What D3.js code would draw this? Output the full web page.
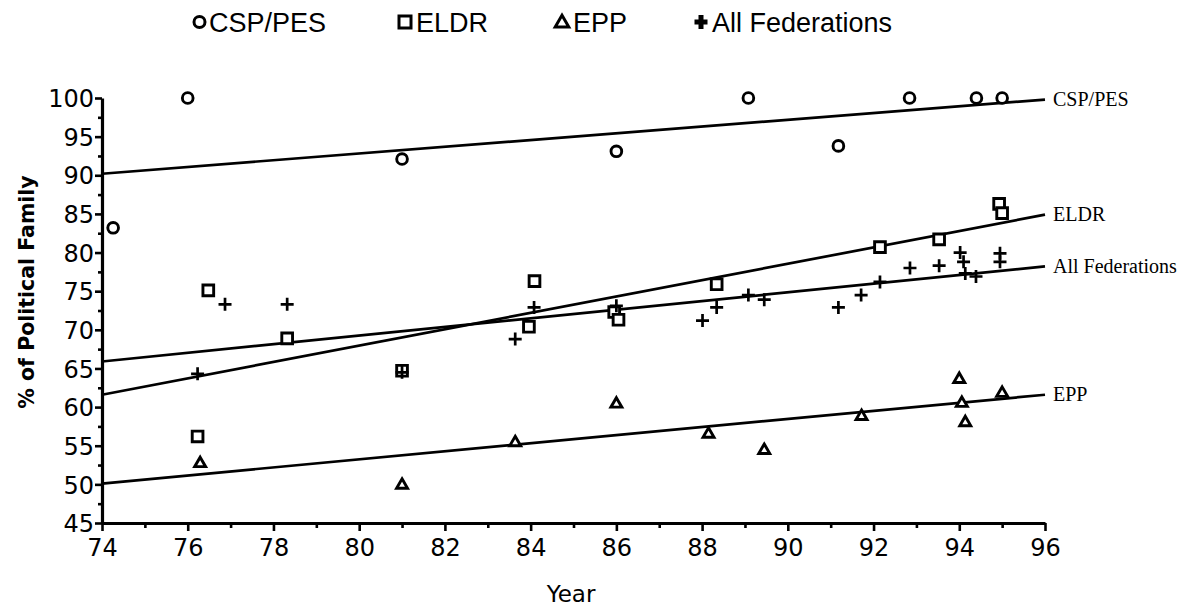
<!DOCTYPE html>
<html>
<head>
<meta charset="utf-8">
<script src="https://cdnjs.cloudflare.com/ajax/libs/d3/7.8.5/d3.min.js"></script>
<style>
  body { margin: 0; background: #fff; }
  svg text { fill: #000; }
</style>
</head>
<body>
<div id="chart"></div>
<script>
// values: [year, percent]
var cspPes = [[74.26, 83.2], [76.0, 100], [81.0, 92.1], [86.0, 93.1], [89.08, 100],
    [91.18, 93.8], [92.84, 100], [94.4, 100], [95.0, 100]];
var eldr = [[76.48, 75.1], [78.32, 68.9], [76.23, 56.2], [81.0, 64.7], [84.09, 76.3],
    [83.96, 70.4], [85.95, 72.3], [86.05, 71.3], [88.34, 75.9], [92.15, 80.7],
    [93.53, 81.7], [94.93, 86.3], [95.0, 85.1]];
var epp = [[76.29, 52.7], [81.0, 49.9], [83.64, 55.4], [86.0, 60.4], [88.15, 56.5],
    [89.45, 54.4], [91.72, 58.8], [94.0, 63.6], [94.06, 60.5], [94.14, 58.0], [95.0, 61.8]];
var allFed = [[76.23, 64.3], [76.87, 73.3], [78.32, 73.3], [81.0, 64.5], [83.64, 68.8],
    [84.08, 72.9], [86.0, 73.1], [88.01, 71.2], [88.34, 72.9], [89.08, 74.5],
    [89.45, 73.9], [91.18, 72.9], [91.71, 74.5], [92.15, 76.2], [92.85, 78.0],
    [93.53, 78.3], [94.02, 80.0], [94.1, 78.8], [94.14, 77.3], [94.39, 76.9],
    [94.95, 79.9], [94.95, 78.8]];

// fitted lines: value at year 74 and at year 96
var fitNames = ["CSP/PES", "ELDR", "All Federations", "EPP"];
var fitStart = [90.2, 61.6, 65.9, 50.1];
var fitEnd = [99.8, 84.9, 78.2, 61.6];

var legendNames = ["CSP/PES", "ELDR", "EPP", "All Federations"];
var xTicks = d3.range(74, 97, 2);
var yTicks = d3.range(45, 101, 5);

var width = 1200, height = 607;
var x = d3.scaleLinear().domain([74, 96]).range([102, 1045]);
var y = d3.scaleLinear().domain([45, 100]).range([523, 98]);

var svg = d3.select("#chart").append("svg")
    .attr("width", width)
    .attr("height", height);

// axes
var xAxis = svg.append("g")
    .attr("transform", "translate(0," + y(45) + ")")
    .call(d3.axisBottom(x).tickValues(xTicks).tickSize(8).tickSizeOuter(0).tickFormat(d3.format("d")));
xAxis.append("g")
    .call(d3.axisBottom(x).tickValues(d3.range(75, 96, 2)).tickSize(5).tickFormat(""))
    .select(".domain").remove();

var yAxis = svg.append("g")
    .attr("transform", "translate(" + x(74) + ",0)")
    .call(d3.axisLeft(y).tickValues(yTicks).tickSize(7).tickSizeOuter(0));
yAxis.append("g")
    .call(d3.axisLeft(y).tickValues(d3.range(47.5, 100, 5)).tickSize(4).tickFormat(""))
    .select(".domain").remove();

svg.selectAll(".domain").attr("stroke", "#000").attr("stroke-width", 3.2);
svg.selectAll(".tick line").attr("stroke", "#000").attr("stroke-width", 2.6);
xAxis.selectAll(".tick text")
    .attr("font-family", "DejaVu Sans, sans-serif")
    .attr("font-size", 24)
    .attr("dy", "0.95em")
    .attr("y", 10);
yAxis.selectAll(".tick text")
    .attr("font-family", "DejaVu Sans, sans-serif")
    .attr("font-size", 24)
    .attr("x", -8)
    .attr("dy", "0.36em");

svg.append("text")
    .attr("x", 571).attr("y", 602)
    .attr("text-anchor", "middle")
    .attr("font-family", "DejaVu Sans, sans-serif")
    .attr("font-size", 23)
    .text("Year");

svg.append("text")
    .attr("transform", "translate(34,292)rotate(-90)")
    .attr("text-anchor", "middle")
    .attr("font-family", "DejaVu Sans, sans-serif")
    .attr("font-weight", "bold")
    .attr("font-size", 20.5)
    .text("% of Political Family");

// regression lines and their labels
fitNames.forEach(function (name, i) {
    svg.append("line")
        .attr("x1", x(74)).attr("y1", y(fitStart[i]))
        .attr("x2", x(96)).attr("y2", y(fitEnd[i]))
        .attr("stroke", "#000")
        .attr("stroke-width", 2.7);
    svg.append("text")
        .attr("x", x(96) + 8)
        .attr("y", y(fitEnd[i]))
        .attr("dy", "0.33em")
        .attr("font-family", "Liberation Serif, Times New Roman, serif")
        .attr("font-size", 20)
        .text(name);
});

// markers
function symbols(data, type, size) {
    svg.append("g").selectAll("path")
        .data(data)
        .enter().append("path")
        .attr("d", d3.symbol().type(type).size(size))
        .attr("transform", function (d) {
            return "translate(" + x(d[0]) + "," + y(d[1]) + ")";
        })
        .attr("fill", "#fff")
        .attr("stroke", "#000")
        .attr("stroke-width", 2.9);
}
symbols(cspPes, d3.symbolCircle, 90);
symbols(eldr, d3.symbolSquare, 115);
symbols(epp, d3.symbolTriangle, 52);

svg.append("g").selectAll("path")
    .data(allFed)
    .enter().append("path")
    .attr("d", "M-6.5,0H6.5M0,-6.5V6.5")
    .attr("transform", function (d) {
        return "translate(" + x(d[0]) + "," + y(d[1]) + ")";
    })
    .attr("stroke", "#000")
    .attr("stroke-width", 2.7);

// legend
var legendMarkX = [199.5, 405, 562, 701];
var legendTextX = [209, 416, 573, 712];
var legend = svg.append("g");
legend.append("circle").attr("cx", legendMarkX[0]).attr("cy", 22).attr("r", 5.5)
    .attr("fill", "#fff").attr("stroke", "#000").attr("stroke-width", 3);
legend.append("rect").attr("x", legendMarkX[1] - 6).attr("y", 16).attr("width", 12).attr("height", 12)
    .attr("fill", "#fff").attr("stroke", "#000").attr("stroke-width", 3);
legend.append("path").attr("d", d3.symbol().type(d3.symbolTriangle).size(80))
    .attr("transform", "translate(" + legendMarkX[2] + ",23)")
    .attr("fill", "#fff").attr("stroke", "#000").attr("stroke-width", 3);
legend.append("path").attr("d", "M-6.5,0H6.5M0,-7V7")
    .attr("transform", "translate(" + legendMarkX[3] + ",22)")
    .attr("stroke", "#000").attr("stroke-width", 5);

legend.selectAll("text")
    .data(legendNames)
    .enter().append("text")
    .attr("x", function (d, i) { return legendTextX[i]; })
    .attr("y", 22)
    .attr("dy", "0.36em")
    .attr("font-family", "Liberation Sans, Arial, sans-serif")
    .attr("font-size", 27)
    .text(function (d) { return d; });
</script>
</body>
</html>
